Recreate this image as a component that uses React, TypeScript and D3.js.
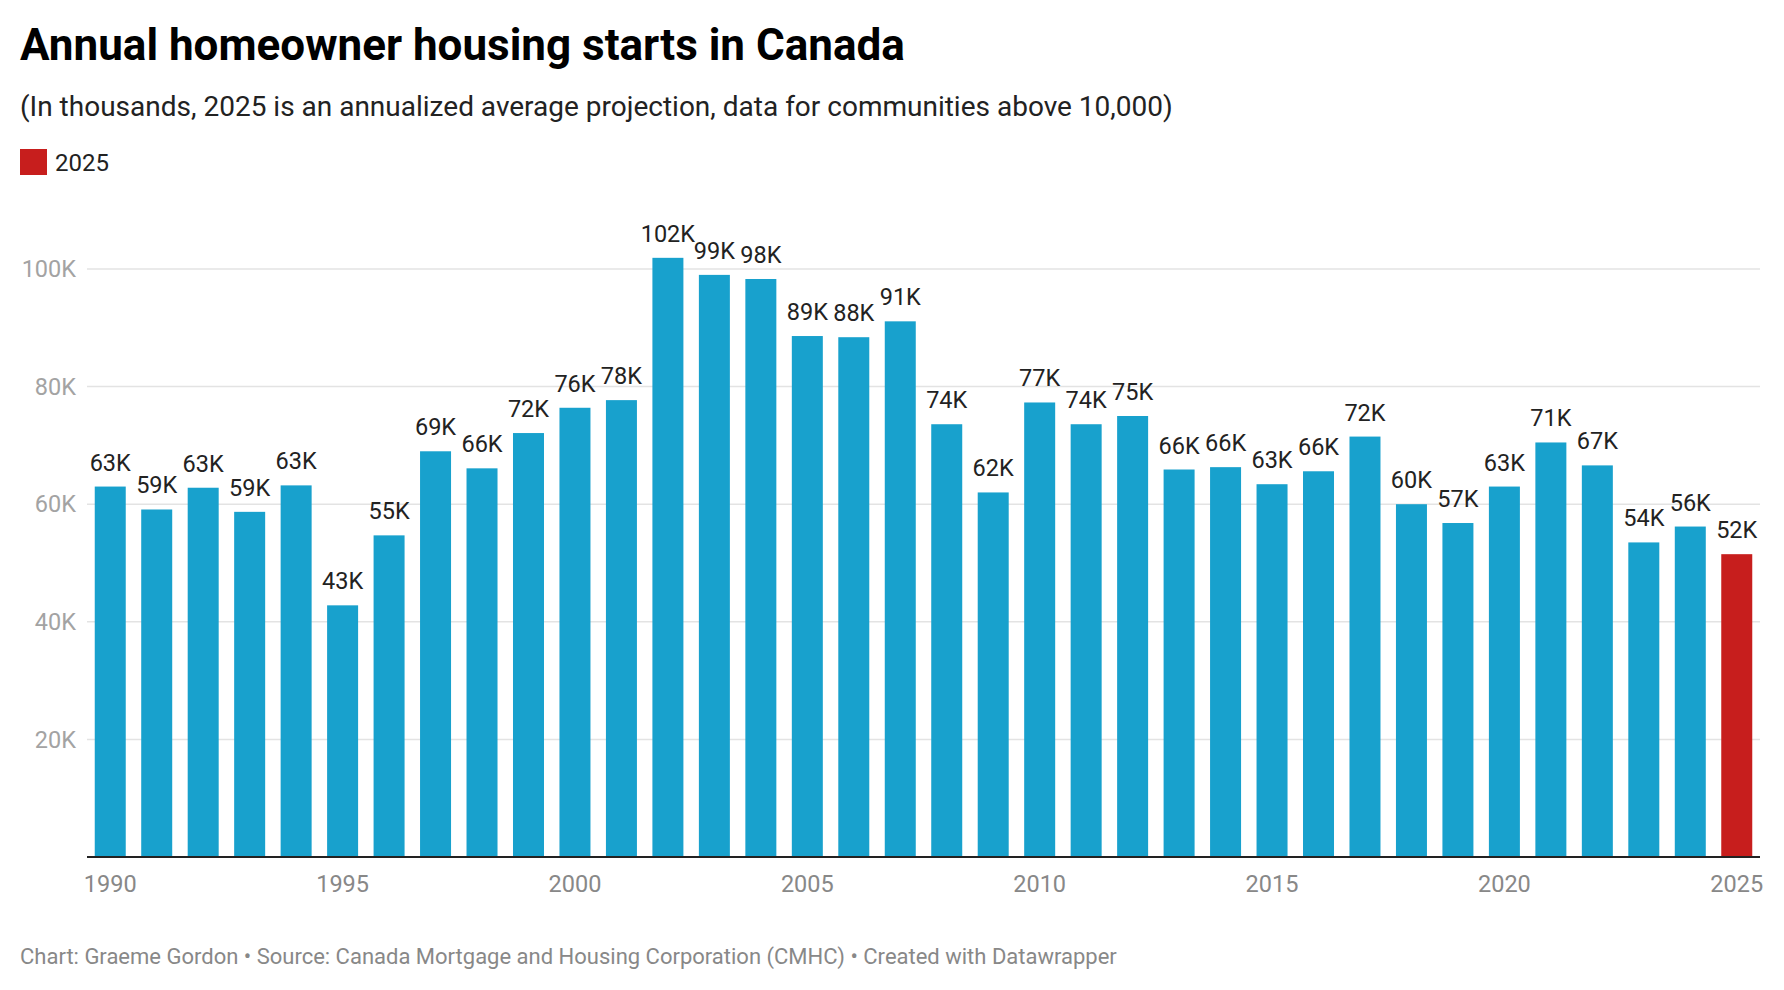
import React from 'react';
import * as d3 from 'd3';

// annual homeowner housing starts, in thousands
const years: number[] = [
  1990, 1991, 1992, 1993, 1994, 1995, 1996, 1997, 1998, 1999,
  2000, 2001, 2002, 2003, 2004, 2005, 2006, 2007, 2008, 2009,
  2010, 2011, 2012, 2013, 2014, 2015, 2016, 2017, 2018, 2019,
  2020, 2021, 2022, 2023, 2024, 2025
];
const starts: number[] = [
  63.0, 59.1, 62.8, 58.7, 63.2, 42.8, 54.7, 69.0, 66.1, 72.1,
  76.4, 77.7, 101.9, 99.0, 98.3, 88.6, 88.4, 91.1, 73.6, 62.0,
  77.3, 73.6, 75.0, 65.9, 66.3, 63.4, 65.6, 71.5, 60.0, 56.8,
  63.0, 70.5, 66.6, 53.5, 56.2, 51.5
];
const yTicks: number[] = [20, 40, 60, 80, 100];
const xTickYears: number[] = [1990, 1995, 2000, 2005, 2010, 2015, 2020, 2025];
const highlightYear = 2025;

const WIDTH = 1784;
const HEIGHT = 990;
const FONT = 'Roboto, "Noto Sans", sans-serif';

const BLUE = '#18a1cd';
const RED = '#c71e1d';

export default function App() {
  const margin = { left: 87, right: 24, top: 269, bottom: 133 };
  const plotRight = WIDTH - margin.right;
  const baseY = HEIGHT - margin.bottom; // y of zero

  const x = d3
    .scaleBand<number>()
    .domain(years)
    .range([margin.left, plotRight])
    .paddingInner(0.333)
    .paddingOuter(0.1667);

  // 100K sits at margin.top
  const y = d3.scaleLinear().domain([0, 100]).range([baseY, margin.top]);

  const fmt = (v: number) => `${Math.round(v)}K`;

  return (
    <svg
      width={WIDTH}
      height={HEIGHT}
      viewBox={`0 0 ${WIDTH} ${HEIGHT}`}
      style={{ position: 'absolute', left: 0, top: 0, background: '#fff' }}
      fontFamily={FONT}
    >
      {/* header */}
      <text x={20} y={60} fontSize={44} fontWeight={700} fill="#000">
        Annual homeowner housing starts in Canada
      </text>
      <text x={20} y={116} fontSize={28} fill="#222">
        (In thousands, 2025 is an annualized average projection, data for communities above 10,000)
      </text>

      {/* legend */}
      <rect x={20} y={149} width={27} height={26} fill={RED} />
      <text x={55} y={171} fontSize={24} fill="#222">
        2025
      </text>

      {/* grid + y labels */}
      <g>
        {yTicks.map(t => (
          <g key={t}>
            <line
              x1={margin.left}
              x2={plotRight}
              y1={y(t)}
              y2={y(t)}
              stroke="#e3e3e3"
              strokeWidth={1.5}
            />
            <text
              x={76}
              y={y(t)}
              dy="0.35em"
              fontSize={23.5}
              fill="#a3a3a3"
              textAnchor="end"
            >
              {t}K
            </text>
          </g>
        ))}
      </g>

      {/* bars */}
      <g>
        {years.map((yr, i) => {
          const v = starts[i];
          const bx = x(yr) || 0;
          return (
            <g key={yr}>
              <rect
                x={bx}
                y={y(v)}
                width={x.bandwidth()}
                height={baseY - y(v)}
                fill={yr === highlightYear ? RED : BLUE}
              />
              <text
                x={bx + x.bandwidth() / 2}
                y={y(v) - 16}
                fontSize={23.5}
                fill="#222"
                textAnchor="middle"
              >
                {fmt(v)}
              </text>
            </g>
          );
        })}
      </g>

      {/* baseline */}
      <line
        x1={margin.left}
        x2={plotRight}
        y1={baseY}
        y2={baseY}
        stroke="#222"
        strokeWidth={2}
      />

      {/* x labels */}
      <g>
        {xTickYears.map(yr => (
          <text
            key={yr}
            x={(x(yr) || 0) + x.bandwidth() / 2}
            y={892}
            fontSize={23.5}
            fill="#888"
            textAnchor="middle"
          >
            {yr}
          </text>
        ))}
      </g>

      {/* footer */}
      <text x={20} y={964} fontSize={22} fill="#888">
        Chart: Graeme Gordon • Source: Canada Mortgage and Housing Corporation (CMHC) • Created with Datawrapper
      </text>
    </svg>
  );
}
